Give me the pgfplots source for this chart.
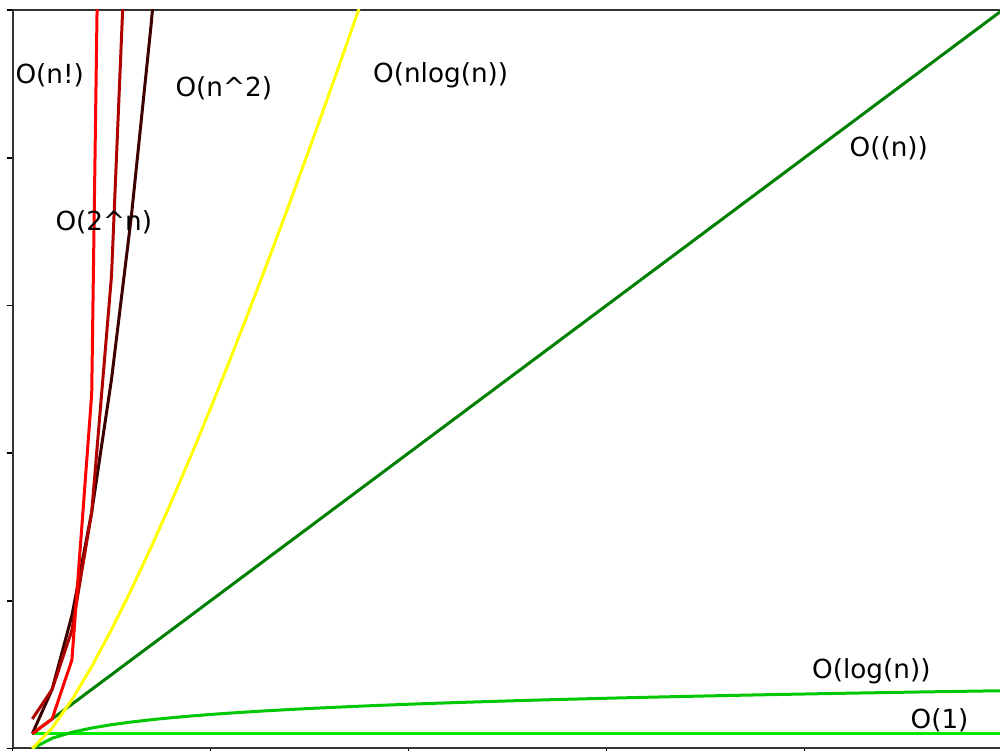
\documentclass[border=0pt]{standalone}
\usepackage{pgfplots}
\pgfplotsset{compat=1.18}
\usepackage{fontspec}
\setmainfont{DejaVu Sans}

\definecolor{cone}{RGB}{0,235,0}
\definecolor{clog}{RGB}{0,200,0}
\definecolor{clin}{RGB}{0,128,0}
\definecolor{cnlog}{RGB}{255,255,0}
\definecolor{csq}{RGB}{60,0,0}
\definecolor{cexp}{RGB}{175,0,0}
\definecolor{cfac}{RGB}{255,0,0}

\begin{document}
\begin{tikzpicture}
\begin{axis}[
    name=ax,
    scale only axis,
    width=395pt,
    height=295.4pt,
    xmin=0, xmax=49.87,
    ymin=0, ymax=50,
    axis x line*=box,
    axis y line*=left,
    axis line style={black!80, line width=0.8pt},
    xtick={0,10,20,30,40},
    ytick={0,10,20,30,40,50},
    xticklabels={}, yticklabels={},
    xtick pos=left, ytick pos=left,
    tick align=outside,
    major tick length=2.4pt,
    tick style={black, line width=0.7pt},
    every axis plot/.append style={line width=1.2pt, mark=none},
    ]
% O(1)
\addplot[cone] coordinates {(1,1) (50,1)};
% O(log n)
\addplot[clog] coordinates {
(1,0) (2,0.693) (3,1.099) (4,1.386) (5,1.609) (6,1.792) (7,1.946) (8,2.079)
(9,2.197) (10,2.303) (11,2.398) (12,2.485) (13,2.565) (14,2.639) (15,2.708)
(16,2.773) (17,2.833) (18,2.890) (19,2.944) (20,2.996) (21,3.045) (22,3.091)
(23,3.135) (24,3.178) (25,3.219) (26,3.258) (27,3.296) (28,3.332) (29,3.367)
(30,3.401) (31,3.434) (32,3.466) (33,3.497) (34,3.526) (35,3.555) (36,3.584)
(37,3.611) (38,3.638) (39,3.664) (40,3.689) (41,3.714) (42,3.738) (43,3.761)
(44,3.784) (45,3.807) (46,3.829) (47,3.850) (48,3.871) (49,3.892) (50,3.912)};
% O(n)
\addplot[clin] coordinates {(1,1) (50,50)};
% O(n log n)
\addplot[cnlog] coordinates {
(1,0) (2,1.386) (3,3.296) (4,5.545) (5,8.047) (6,10.751) (7,13.621)
(8,16.636) (9,19.775) (10,23.026) (11,26.377) (12,29.819) (13,33.344)
(14,36.947) (15,40.621) (16,44.361) (17,48.165) (18,52.027)};
% O(n^2)
\addplot[csq] coordinates {(1,1) (2,4) (3,9) (4,16) (5,25) (6,36) (7,49) (8,64)};
% O(2^n)
\addplot[cexp] coordinates {(1,2) (2,4) (3,8) (4,16) (5,32) (6,64)};
% O(n!)
\addplot[cfac] coordinates {(1,1) (2,2) (3,6) (4,24) (5,120)};

\begin{scope}[every node/.style={anchor=base west, inner sep=0pt, font=\fontsize{10.5}{12}\selectfont}]
\node at (axis cs:0.13,45.0) {O(n!)};
\node at (axis cs:8.21,44.12) {O(n\textasciicircum 2)};
\node at (axis cs:2.15,35.1) {O(2\textasciicircum n)};
\node at (axis cs:18.19,45.07) {O(nlog(n))};
\node at (axis cs:42.25,40.07) {O((n))};
\node at (axis cs:40.36,4.72) {O(log(n))};
\node at (axis cs:45.33,1.35) {O(1)};
\end{scope}
\end{axis}
\pgfresetboundingbox
\path[use as bounding box] ([xshift=-5pt,yshift=-0.92pt]ax.south west) rectangle ([yshift=4pt]ax.north east);
\end{tikzpicture}
\end{document}
